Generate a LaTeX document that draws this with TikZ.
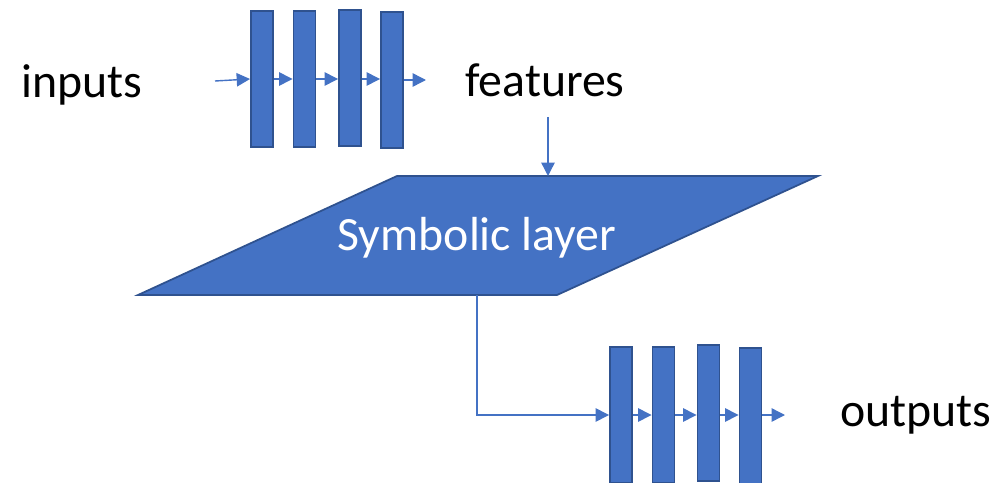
\documentclass[tikz,border=0pt]{standalone}
\usepackage{fontspec}
\setmainfont{Carlito}
\usetikzlibrary{positioning,arrows.meta}
\definecolor{layerBlue}{RGB}{68,114,196}
\definecolor{layerEdge}{RGB}{47,82,143}

\tikzset{
	bar/.style={draw=layerEdge,fill=layerBlue,line width=1.1pt,minimum width=0.44cm,minimum height=2.72cm,inner sep=0pt},
	flow/.style={draw=layerBlue,line width=0.8pt,-{Triangle[length=7.6pt,width=7.6pt]}},
	label/.style={font=\fontsize{27.2}{32}\selectfont,inner sep=0pt}
}

\begin{document}
\begin{tikzpicture}[x=0.02cm,y=-0.02cm]
		\useasboundingbox (0,0) rectangle (1007,483);
		% encoder bars
		\node[bar] (a1) at (262,79) {};
		\node[bar] (a2) at (304.5,79) {};
		\node[bar] (a3) at (350,78) {};
		\node[bar] (a4) at (392,80) {};
		% decoder bars
		\node[bar] (b1) at (621,415) {};
		\node[bar] (b2) at (663.5,415) {};
		\node[bar] (b3) at (708.5,413) {};
		\node[bar] (b4) at (750.5,416) {};
		% labels
		\node[label] (inputs) at (82,85) {inputs};
		\node[label] (features) at (545,80) {features};
		\node[label] (outputs) at (916,415) {outputs};
		% symbolic layer
		\coordinate (tl) at (397,176);
		\coordinate (tr) at (818,176);
		\coordinate (br) at (557,295);
		\coordinate (bl) at (138,295);
		\draw[draw=layerEdge,fill=layerBlue,line width=1pt] (tl) -- (tr) -- (br) -- (bl) -- cycle;
		\node[label,text=white] (sym) at (477,238) {Symbolic layer};
		\coordinate (symIn) at (548,176);
		\coordinate (symOut) at (477,295);
		\coordinate (featOut) at (548,117);
		\coordinate (inEnd) at (215,81);
		\coordinate (aEnd) at (426,80);
		\coordinate (bEnd) at (785,415);
		% arrows
		\draw[flow] (inEnd) -- (a1.west);
		\draw[flow] (a1.east) -- (a1.east -| a2.west);
		\draw[flow] (a2.east) -- (a2.east -| a3.west);
		\draw[flow] (a3.east |- a2.east) -- (a2.east -| a4.west);
		\draw[flow] (a4.east) -- (aEnd);
		\draw[flow] (featOut) -- (symIn);
		\draw[flow] (symOut) |- (b1.west);
		\draw[flow] (b1.east) -- (b1.east -| b2.west);
		\draw[flow] (b2.east) -- (b2.east -| b3.west);
		\draw[flow] (b3.east |- b2.east) -- (b2.east -| b4.west);
		\draw[flow] (b4.east |- b1.east) -- (bEnd);
\end{tikzpicture}
\end{document}
